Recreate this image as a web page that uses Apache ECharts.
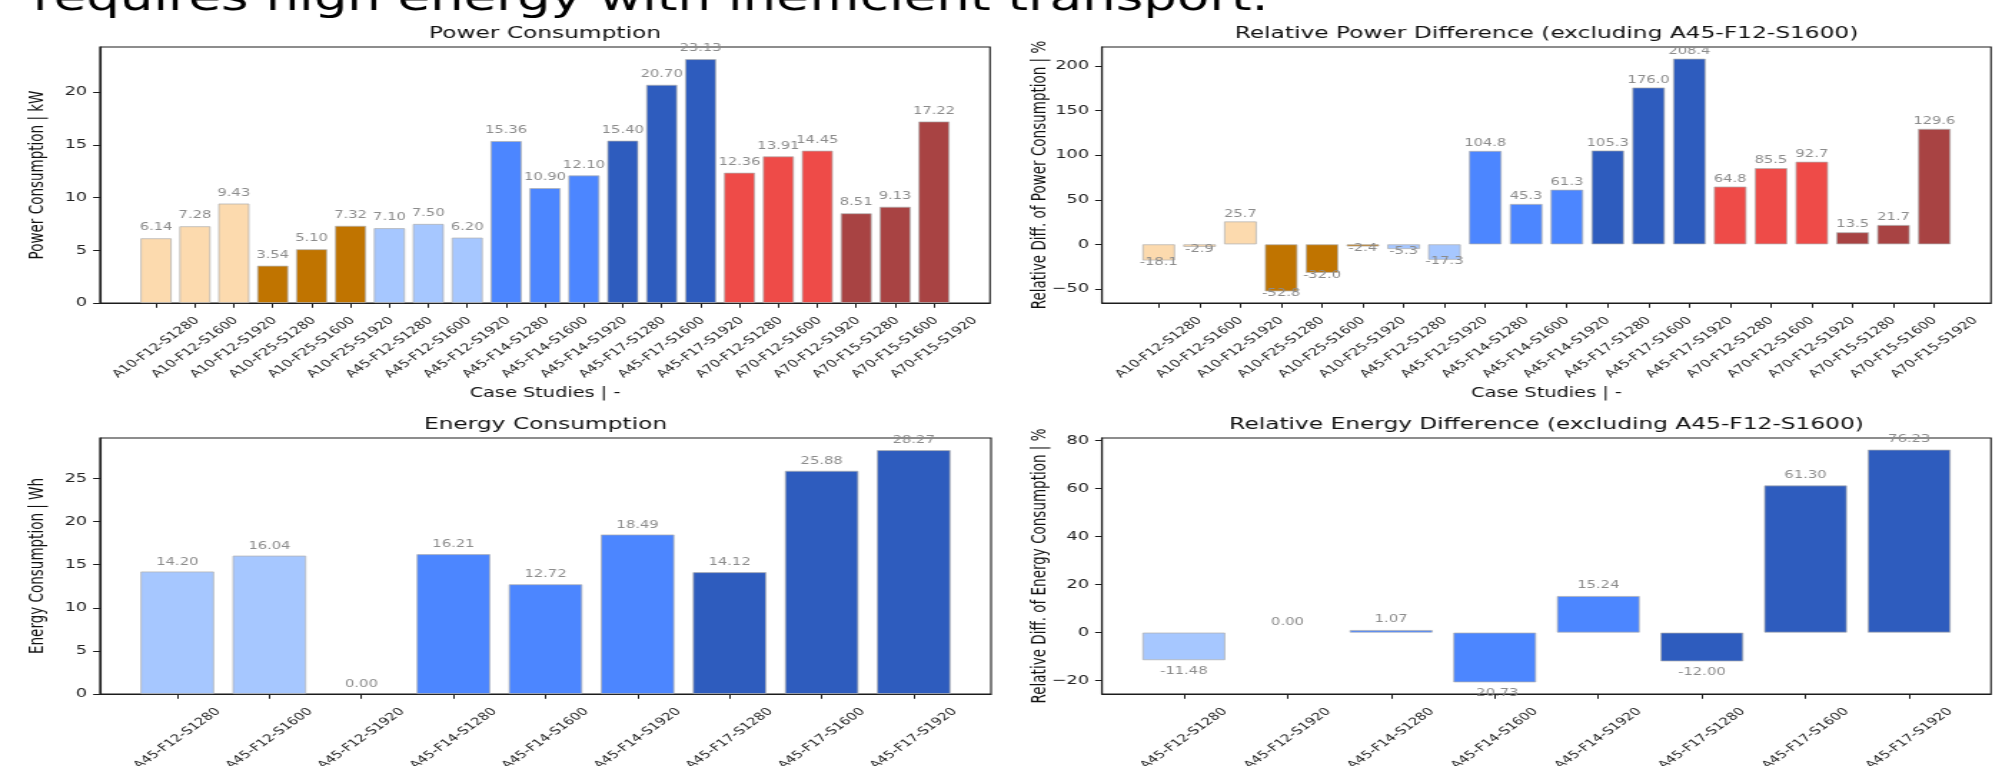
<!DOCTYPE html>
<html>
<head>
<meta charset="utf-8">
<script src="https://cdn.jsdelivr.net/npm/echarts@6/dist/echarts.min.js"></script>
<style>
  html, body { margin: 0; padding: 0; background: #fff; overflow: hidden; width: 2015px; height: 766px; }
  #chart { position: absolute; left: 0; top: 0; height: 766px; transform-origin: 0 0; }
</style>
</head>
<body>
<div id="chart"></div>
<script>
// ---- data ---------------------------------------------------------------
const headline = 'requires high energy with inefficient transport.';

const powerCases = ['A10-F12-S1280', 'A10-F12-S1600', 'A10-F12-S1920', 'A10-F25-S1280', 'A10-F25-S1600',
  'A10-F25-S1920', 'A45-F12-S1280', 'A45-F12-S1600', 'A45-F12-S1920', 'A45-F14-S1280', 'A45-F14-S1600',
  'A45-F14-S1920', 'A45-F17-S1280', 'A45-F17-S1600', 'A45-F17-S1920', 'A70-F12-S1280', 'A70-F12-S1600',
  'A70-F12-S1920', 'A70-F15-S1280', 'A70-F15-S1600', 'A70-F15-S1920'];
const powerKW = [6.14, 7.28, 9.43, 3.54, 5.10, 7.32, 7.10, 7.50, 6.20, 15.36, 10.90,
  12.10, 15.40, 20.70, 23.13, 12.36, 13.91, 14.45, 8.51, 9.13, 17.22];
const powerTicks = [0, 5, 10, 15, 20];

const powerDiffCases = ['A10-F12-S1280', 'A10-F12-S1600', 'A10-F12-S1920', 'A10-F25-S1280', 'A10-F25-S1600',
  'A10-F25-S1920', 'A45-F12-S1280', 'A45-F12-S1920', 'A45-F14-S1280', 'A45-F14-S1600',
  'A45-F14-S1920', 'A45-F17-S1280', 'A45-F17-S1600', 'A45-F17-S1920', 'A70-F12-S1280', 'A70-F12-S1600',
  'A70-F12-S1920', 'A70-F15-S1280', 'A70-F15-S1600', 'A70-F15-S1920'];
const powerDiffPct = [-18.1, -2.9, 25.7, -52.8, -32.0, -2.4, -5.3, -17.3, 104.8, 45.3,
  61.3, 105.3, 176.0, 208.4, 64.8, 85.5, 92.7, 13.5, 21.7, 129.6];
const powerDiffTicks = [-50, 0, 50, 100, 150, 200];

const energyCases = ['A45-F12-S1280', 'A45-F12-S1600', 'A45-F12-S1920', 'A45-F14-S1280', 'A45-F14-S1600',
  'A45-F14-S1920', 'A45-F17-S1280', 'A45-F17-S1600', 'A45-F17-S1920'];
const energyWh = [14.20, 16.04, 0.00, 16.21, 12.72, 18.49, 14.12, 25.88, 28.27];
const energyTicks = [0, 5, 10, 15, 20, 25];

const energyDiffCases = ['A45-F12-S1280', 'A45-F12-S1920', 'A45-F14-S1280', 'A45-F14-S1600',
  'A45-F14-S1920', 'A45-F17-S1280', 'A45-F17-S1600', 'A45-F17-S1920'];
const energyDiffPct = [-11.48, 0.00, 1.07, -20.73, 15.24, -12.00, 61.30, 76.23];
const energyDiffTicks = [-20, 0, 20, 40, 60, 80];

// ---- styling ------------------------------------------------------------
const SX = 1.43;                 // the figure is drawn horizontally stretched
const FONT = 'DejaVu Sans';
const INK = '#1c1c1c';
const groupColors = {
  'A10-F12': '#FCDAAE', 'A10-F25': '#C07400',
  'A45-F12': '#A6C7FF', 'A45-F14': '#4C86FF', 'A45-F17': '#2E5CBE',
  'A70-F12': '#EE4B48', 'A70-F15': '#A84343'
};
const colorOf = name => groupColors[name.slice(0, 7)];

// frame = [left, top, right, bottom] of each axes box, in page pixels
const panels = [
  { cases: powerCases, values: powerKW, ticks: powerTicks, decimals: 2,
    title: 'Power Consumption', yName: 'Power Consumption | kW', xName: 'Case Studies | -',
    frame: [100, 47, 990, 303], up: 5.5, down: 5.5 },
  { cases: powerDiffCases, values: powerDiffPct, ticks: powerDiffTicks, decimals: 1,
    title: 'Relative Power Difference (excluding A45-F12-S1600)',
    yName: 'Relative Diff. of Power Consumption | %', xName: 'Case Studies | -',
    frame: [1102, 47, 1991, 303], up: 2.5, down: -3 },
  { cases: energyCases, values: energyWh, ticks: energyTicks, decimals: 2,
    title: 'Energy Consumption', yName: 'Energy Consumption | Wh', xName: 'Case Studies | -',
    frame: [100, 438, 991, 694], up: 4.5, down: 4.5 },
  { cases: energyDiffCases, values: energyDiffPct, ticks: energyDiffTicks, decimals: 2,
    title: 'Relative Energy Difference (excluding A45-F12-S1600)',
    yName: 'Relative Diff. of Energy Consumption | %', xName: 'Case Studies | -',
    frame: [1102, 438, 1991, 694], up: 5.5, down: 6 }
];

// autoscale like a bar plot: 5 % margins, bars anchored at zero
function yLimits(vals) {
  const lo = Math.min(0, ...vals), hi = Math.max(0, ...vals);
  const pad = (hi - lo) * 0.05;
  return [lo < 0 ? lo - pad : 0, hi > 0 ? hi + pad : 0];
}
function xLimits(n) {
  const lo = -0.4, hi = n - 1 + 0.4, pad = (hi - lo) * 0.05;
  return [lo - pad, hi + pad];
}
const minus = v => (v < 0 ? '\u2212' + Math.abs(v) : String(v));

// ---- chart --------------------------------------------------------------
const el = document.getElementById('chart');
el.style.width = (2015 / SX) + 'px';
el.style.transform = 'scaleX(' + SX + ')';
const chart = echarts.init(el);

const grids = [], xAxes = [], yAxes = [], series = [], graphics = [];

graphics.push({
  type: 'text', x: 33 / SX, y: 0,
  style: { text: headline, fontSize: 37, fontFamily: FONT, fill: '#000', align: 'left', verticalAlign: 'middle' }
});

panels.forEach((p, i) => {
  const [l, t, r, b] = p.frame;
  const idx = p.cases.map((_, k) => k);
  const [xmin, xmax] = xLimits(p.cases.length);
  const [ymin, ymax] = yLimits(p.values);

  grids.push({ left: l / SX, top: t, width: (r - l) / SX, height: b - t,
    outerBoundsMode: 'none', containLabel: false,
    show: true, borderColor: INK, borderWidth: 1.1, backgroundColor: 'transparent' });

  xAxes.push({
    gridIndex: i, type: 'value', min: xmin, max: xmax,
    axisLine: { show: true, onZero: false, lineStyle: { color: INK, width: 1.1 } },
    axisTick: { show: true, customValues: idx, length: 4.8, lineStyle: { color: INK, width: 1 } },
    axisLabel: { customValues: idx, formatter: v => p.cases[Math.round(v)],
      rotate: 45, align: 'center', verticalAlign: 'middle', margin: 44.5, hideOverlap: false,
      fontSize: 10.5, fontFamily: FONT, color: '#222' },
    splitLine: { show: false }
  });

  yAxes.push({
    gridIndex: i, type: 'value', min: ymin, max: ymax,
    axisLine: { show: true, onZero: false, lineStyle: { color: INK, width: 1.1 } },
    axisTick: { show: true, customValues: p.ticks, length: 4.8, lineStyle: { color: INK, width: 1 } },
    axisLabel: { customValues: p.ticks, formatter: minus, margin: 9,
      fontSize: 12.4, fontFamily: FONT, color: '#222' },
    splitLine: { show: false }
  });

  series.push({
    type: 'bar', xAxisIndex: i, yAxisIndex: i, barWidth: '80%',
    data: p.values.map((v, k) => ({
      value: [k, v],
      itemStyle: { color: colorOf(p.cases[k]), borderWidth: v === 0 ? 0 : 0.8 },
      label: { position: v >= 0 ? 'top' : 'bottom', distance: v >= 0 ? p.up : p.down }
    })),
    itemStyle: { borderColor: 'rgba(175,175,175,0.9)' },
    label: { show: true, fontSize: 10.3, fontFamily: FONT, color: '#8c8c8c',
      formatter: d => d.value[1].toFixed(p.decimals) },
    emphasis: { disabled: true }
  });

  const cx = (l + r) / 2 / SX;
  graphics.push({
    type: 'text', x: cx, y: t - 13,
    style: { text: p.title, fontSize: 16.3, fontFamily: FONT, fill: '#111', align: 'center', verticalAlign: 'middle' }
  });
  graphics.push({
    type: 'text', x: (l - 62) / SX, y: (t + b) / 2, rotation: Math.PI / 2,
    style: { text: p.yName, fontSize: 13.5, fontFamily: FONT, fill: '#111', align: 'center', verticalAlign: 'middle' }
  });
  graphics.push({
    type: 'text', x: cx, y: b + 90,
    style: { text: p.xName, fontSize: 13.5, fontFamily: FONT, fill: '#111', align: 'center', verticalAlign: 'middle' }
  });
});

chart.setOption({
  animation: false,
  backgroundColor: '#fff',
  grid: grids, xAxis: xAxes, yAxis: yAxes, series: series,
  graphic: graphics
});
</script>
</body>
</html>
